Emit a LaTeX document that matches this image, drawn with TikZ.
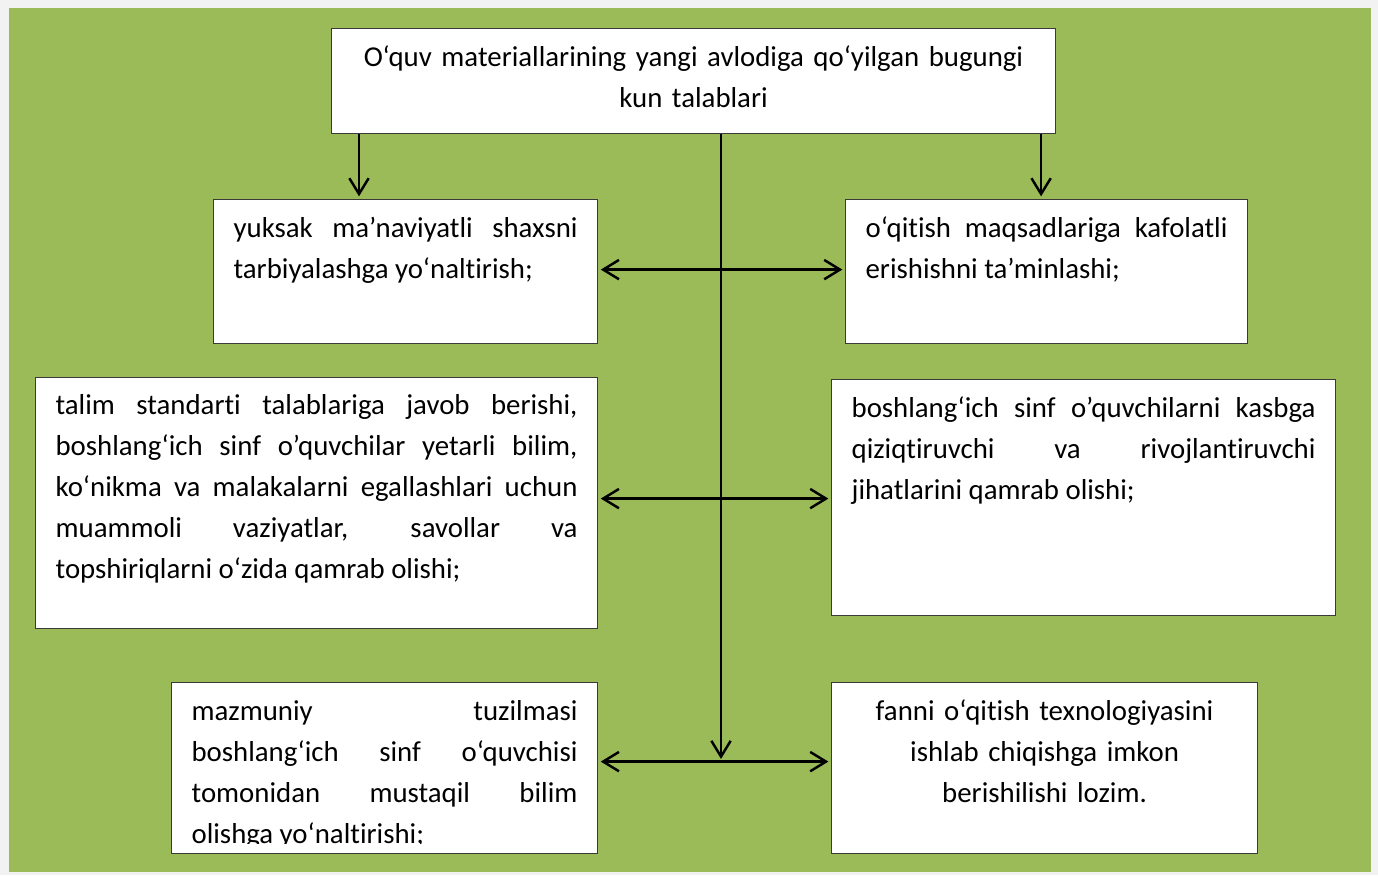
\documentclass[tikz,border=0pt]{standalone}
\usepackage{fontspec}
\setmainfont[Ligatures={TeX,NoCommon}]{Carlito}
\usetikzlibrary{arrows.meta}
\usetikzlibrary{calc}

\definecolor{leafgreen}{HTML}{9BBB59}
\definecolor{pagegray}{HTML}{F2F2F2}
\definecolor{boxedge}{HTML}{3A3A3A}

\newcommand{\boxfont}{\fontsize{16.4}{23.3}\selectfont\tolerance=10000\hyphenpenalty=10000\relax}

\tikzset{
  reqbox/.style={draw=boxedge, line width=0.7pt, fill=white, anchor=north west,
    inner xsep=0.4cm, inner ysep=0pt, text height=0.76cm, font=\boxfont},
  arr/.style={line width=1.4pt, -{Straight Barb[length=9pt,width=11pt]}, shorten >=1.5pt},
  dblarr/.style={line width=1.4pt, {Straight Barb[length=9pt,width=11pt]}-{Straight Barb[length=9pt,width=11pt]},
    shorten <=1.5pt, shorten >=1.5pt}
}

\begin{document}
\begin{tikzpicture}[x=0.02cm, y=-0.02cm]
  \useasboundingbox (0,0) rectangle (1378,875);
  \fill[pagegray] (0,0) rectangle (1378,875);
  \fill[leafgreen] (9,8) rectangle (1371,872);

  % boxes
  \node[reqbox, text width=13.68cm, text depth=1.34cm, align=center] (req) at (331,28)
    {O‘quv materiallarining yangi avlodiga qo‘yilgan bugungi\\kun talablari};

  \node[reqbox, text width=6.88cm, text depth=2.12cm, align=justify] (L1) at (213,199)
    {yuksak ma’naviyatli shaxsni\linebreak tarbiyalashga yo‘naltirish;};
  \node[reqbox, text width=7.24cm, text depth=2.12cm, align=justify] (R1) at (845,199)
    {o‘qitish maqsadlariga kafolatli\linebreak erishishni ta’minlashi;};

  \node[reqbox, text width=10.44cm, text height=0.74cm, text depth=4.28cm, align=justify] (L2) at (35,377)
    {talim standarti talablariga javob berishi,\linebreak
     boshlang‘ich sinf o’quvchilar yetarli bilim,\linebreak
     ko‘nikma va malakalarni egallashlari uchun\linebreak
     muammoli vaziyatlar, savollar va\linebreak
     topshiriqlarni o‘zida qamrab olishi;};
  \node[reqbox, text width=9.28cm, text depth=3.96cm, align=justify] (R2) at (831,379)
    {boshlang‘ich sinf o’quvchilarni kasbga\linebreak
     qiziqtiruvchi va rivojlantiruvchi\linebreak
     jihatlarini qamrab olishi;};

  \node[reqbox, text width=7.72cm, text depth=2.66cm, align=justify] (L3) at (171,682)
    {mazmuniy tuzilmasi\linebreak
     boshlang‘ich sinf o‘quvchisi\linebreak
     tomonidan mustaqil bilim\linebreak
     olishga yo‘naltirishi;};
  % text box cuts off the last line
  \fill[white] ([shift={(1.5,-10)}]L3.south west) rectangle ([shift={(-1.5,-1.5)}]L3.south east);
  \node[reqbox, text width=7.72cm, text depth=2.66cm, align=center] (R3) at (831,682)
    {fanni o‘qitish texnologiyasini\\ishlab chiqishga imkon\\berishilishi lozim.};

  % arrows
  \coordinate (dl) at ([shift={(28,0)}]req.south west);
  \coordinate (dr) at ([shift={(-15,0)}]req.south east);
  \coordinate (spine) at ([shift={(390,0)}]req.south west);
  \coordinate (r1) at ([shift={(0,-2)}]L1.east);
  \coordinate (r2) at ([shift={(0,-4.5)}]L2.east);
  \coordinate (r3) at ([shift={(0,-6.5)}]L3.east);

  \draw[arr] (dl) -- (dl |- L1.north);
  \draw[arr] (dr) -- (dr |- R1.north);
  \draw[arr] (spine) -- (spine |- r3);

  \draw[dblarr] (r1) -- (r1 -| R1.west);
  \draw[dblarr] (r2) -- (r2 -| R2.west);
  \draw[dblarr] (r3) -- (r3 -| R3.west);
\end{tikzpicture}
\end{document}
